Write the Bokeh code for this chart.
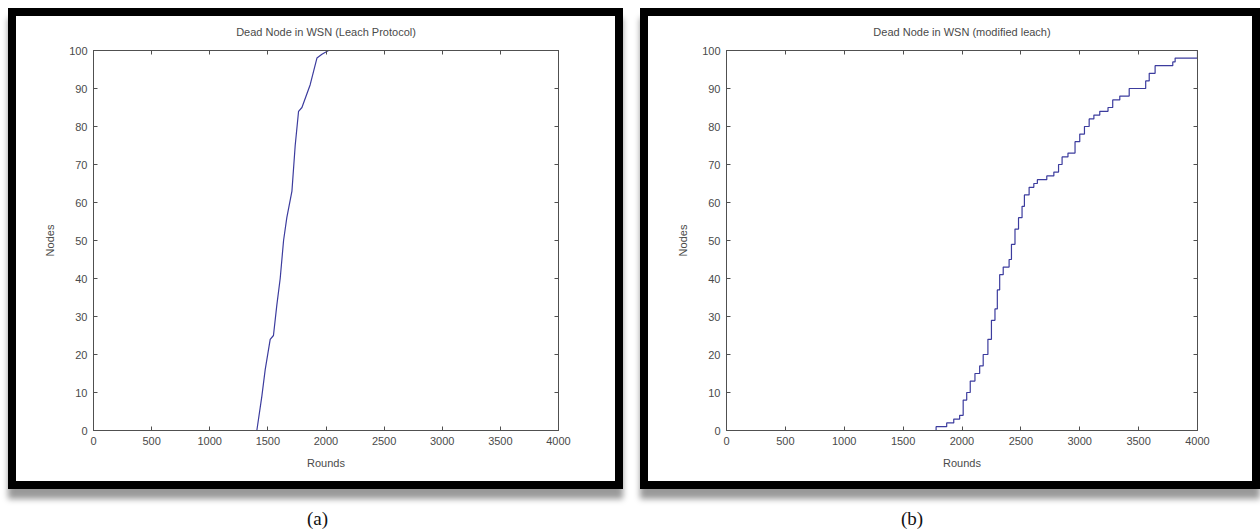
from bokeh.plotting import figure
from bokeh.models import LinearAxis, Range1d, Div, FixedTicker, Spacer
from bokeh.layouts import column, row
from bokeh.embed import file_html
from bokeh.resources import INLINE

# ---- data ----
x_ticks = [0, 500, 1000, 1500, 2000, 2500, 3000, 3500, 4000]
y_ticks = [0, 10, 20, 30, 40, 50, 60, 70, 80, 90, 100]

titles = ["Dead Node in WSN (Leach Protocol)", "Dead Node in WSN (modified leach)"]
panel_labels = ["(a)", "(b)"]

leach_rounds = [1405, 1448, 1477, 1520, 1548, 1577, 1606, 1635, 1663, 1707,
                1735, 1764, 1793, 1864, 1922, 1965, 2022]
leach_dead = [0, 9, 16, 24, 25, 33, 40, 50, 56, 63, 75, 84, 85, 91, 98, 99, 100]

mod_rounds = [1775, 1780, 1870, 1930, 1980, 2010, 2040, 2070, 2110, 2150, 2180,
              2220, 2250, 2280, 2300, 2320, 2350, 2400, 2420, 2450, 2480,
              2510, 2530, 2570, 2610, 2640, 2720, 2780, 2820, 2850, 2900,
              2960, 3000, 3040, 3080, 3120, 3170, 3240, 3280, 3340, 3420,
              3560, 3590, 3640, 3790, 3810, 4000]
mod_dead = [0, 1, 2, 3, 4, 8, 10, 13, 15, 17, 20,
            24, 29, 32, 37, 41, 43, 45, 49, 53, 56,
            59, 62, 64, 65, 66, 67, 68, 70, 72, 73,
            76, 78, 80, 82, 83, 84, 85, 87, 88, 90,
            92, 94, 96, 97, 98, 100]

LINE = "#3c3c9e"
AX = "#505050"
TXT = "#4a4a4a"
FONT = "Liberation Sans"


def make_panel(title, xs, ys, stepped, width, mleft, mright):
    p = figure(width=width, height=465, x_range=Range1d(0, 4000), y_range=Range1d(0, 100),
               title=None, output_backend="svg", toolbar_location=None,
               min_border_left=mleft, min_border_right=mright,
               min_border_top=34, min_border_bottom=51,
               background_fill_color="white", border_fill_color="white")
    p.grid.visible = False
    p.outline_line_color = AX
    p.xaxis.axis_label = "Rounds"
    p.yaxis.axis_label = "Nodes"
    p.xaxis.ticker = FixedTicker(ticks=x_ticks)
    p.yaxis.ticker = FixedTicker(ticks=y_ticks)
    for ax in p.xaxis + p.yaxis:
        ax.axis_line_color = AX
        ax.major_tick_line_color = AX
        ax.major_tick_in = 4
        ax.major_tick_out = 0
        ax.minor_tick_line_color = None
        ax.major_label_text_font = FONT
        ax.major_label_text_font_size = "11px"
        ax.major_label_text_color = TXT
        ax.major_label_standoff = 6
        ax.axis_label_text_font = FONT
        ax.axis_label_text_font_size = "11px"
        ax.axis_label_text_font_style = "normal"
        ax.axis_label_text_color = TXT
    p.xaxis.axis_label_standoff = 9
    p.yaxis.axis_label_standoff = 10
    # top axis carries the chart title as its label (MATLAB-style box with inner ticks)
    top = LinearAxis(ticker=FixedTicker(ticks=x_ticks), major_label_text_color=None,
                     major_label_text_font_size="1px",
                     major_tick_in=4, major_tick_out=0, minor_tick_line_color=None,
                     axis_line_color=AX, major_tick_line_color=AX, major_label_standoff=0,
                     axis_label=title, axis_label_text_font=FONT,
                     axis_label_text_font_size="11px", axis_label_text_font_style="normal",
                     axis_label_text_color=TXT, axis_label_standoff=13)
    right = LinearAxis(ticker=FixedTicker(ticks=y_ticks), major_label_text_color=None,
                       major_label_text_font_size="1px",
                       major_tick_in=4, major_tick_out=0, minor_tick_line_color=None,
                       axis_line_color=AX, major_tick_line_color=AX, major_label_standoff=0)
    p.add_layout(top, "above")
    p.add_layout(right, "right")
    if stepped:
        p.step(xs, ys, mode="after", line_color=LINE, line_width=1.2)
    else:
        p.line(xs, ys, line_color=LINE, line_width=1.2)
    p.styles = {"outline": "8px solid black",
                "box-shadow": "0px 10px 6px 8px rgba(0,0,0,0.4)"}
    return p


pa = make_panel(titles[0], leach_rounds, leach_dead, False, 599, 77, 57)
pb = make_panel(titles[1], mod_rounds, mod_dead, True, 604, 78, 55)

lab_style = {"text-align": "center", "font-family": "Liberation Serif",
             "font-size": "19px", "line-height": "22px", "color": "#111"}
da = Div(text=panel_labels[0], width=603, height=22, margin=(0, 0, 0, 0), styles=dict(lab_style))
db = Div(text=panel_labels[1], width=552, height=22, margin=(0, 0, 0, 0), styles=dict(lab_style))

layout = column(
    Spacer(width=16, height=16),
    row(Spacer(width=16, height=10), pa, Spacer(width=33, height=10), pb),
    Spacer(width=16, height=27),
    row(Spacer(width=16, height=10), da, Spacer(width=17, height=10), db),
)

open("out.html", "w").write(file_html(layout, INLINE))
